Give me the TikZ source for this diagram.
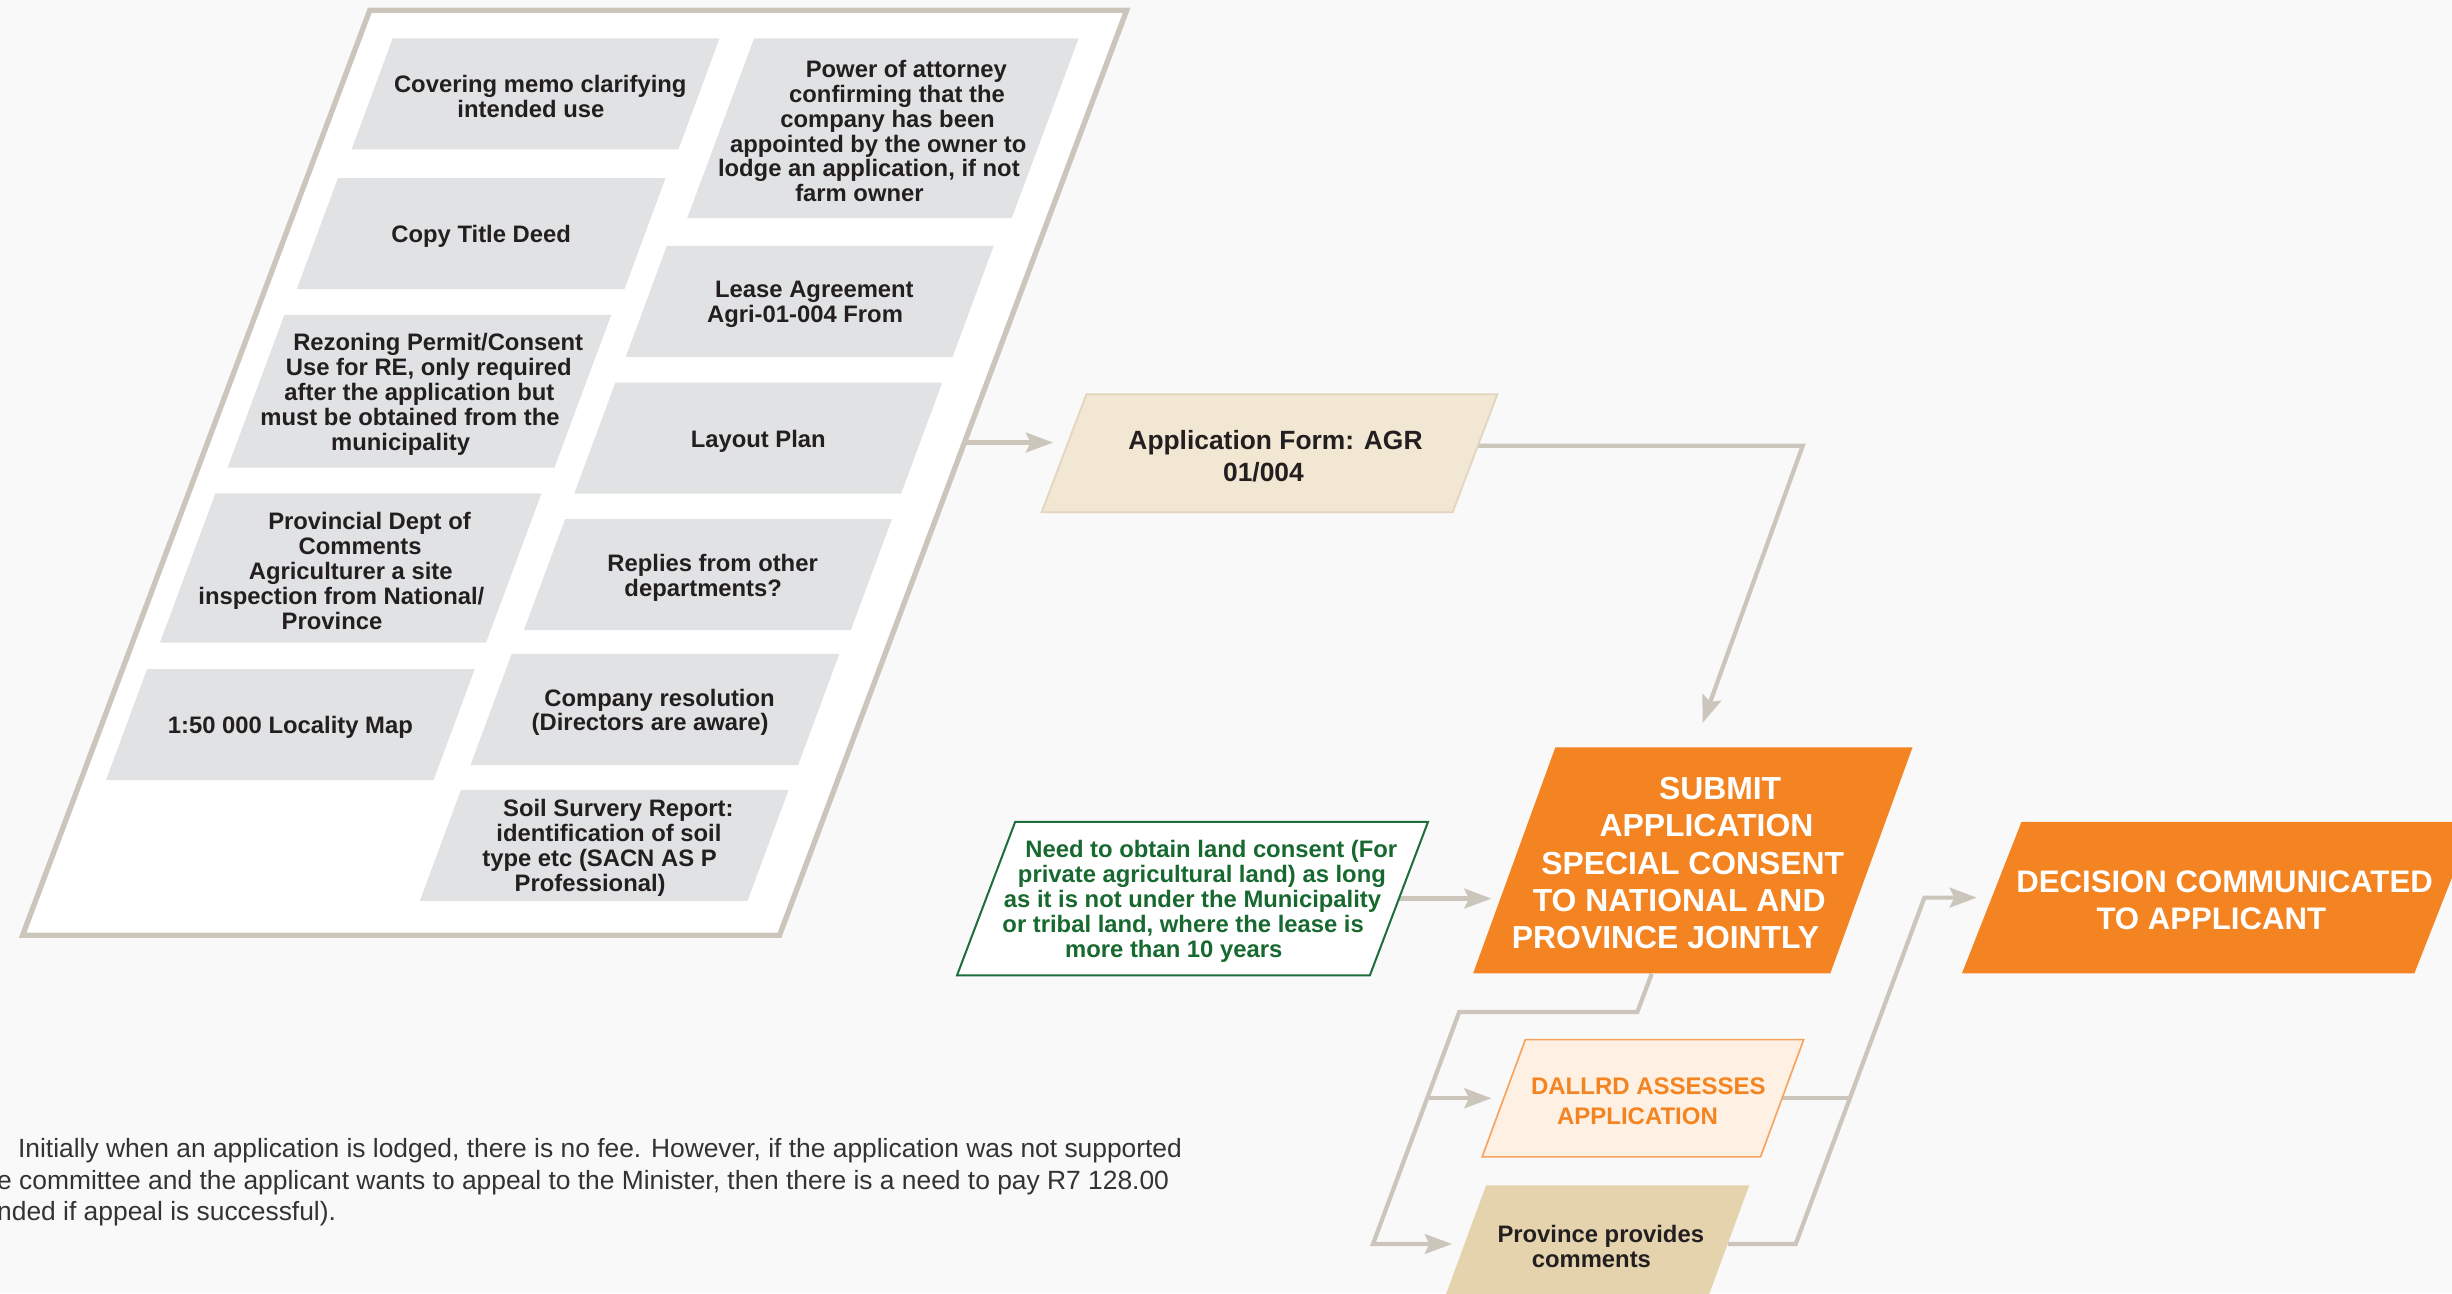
\documentclass[tikz,border=0pt]{standalone}
\usepackage{fontspec}
\setmainfont{Liberation Sans}
\usetikzlibrary{arrows.meta,calc,backgrounds}

\definecolor{bgcol}{HTML}{F9F9F9}
\definecolor{edgecol}{HTML}{CBC5BB}
\definecolor{boxgray}{HTML}{E1E2E3}
\definecolor{txtdark}{HTML}{231F20}
\definecolor{appfill}{HTML}{F2E7D2}
\definecolor{appedge}{HTML}{E2D6BF}
\definecolor{myorange}{HTML}{F48422}
\definecolor{greenline}{HTML}{1E6E3C}
\definecolor{greentext}{HTML}{17692F}
\definecolor{dalfill}{HTML}{FEF0E2}
\definecolor{daledge}{HTML}{F6A35E}
\definecolor{provfill}{HTML}{E5D3AE}
\definecolor{notetext}{HTML}{333333}

\newlength\shstep
\newcommand\sh[1]{\hspace*{#1\shstep}}

% #1 name, #2 cx, #3 cy, #4 w, #5 h, #6 slant, #7 path style, #8 text style, #9 text
\newcommand\pgbox[9]{%
  \path[#7] ({#2-#4/2-#6/2},{#3+#5/2}) -- ({#2+#4/2-#6/2},{#3+#5/2})
     -- ({#2+#4/2+#6/2},{#3-#5/2}) -- ({#2-#4/2+#6/2},{#3-#5/2}) -- cycle;
  \node[inner sep=0pt, minimum width={#4*0.03cm}, minimum height={#5*0.03cm}] (#1) at (#2,#3) {};
  \node[#8] (#1-t) at (#2,{#3+1.8}) {#9};
}

\tikzset{
  docbox/.style={fill=white, draw=edgecol, line width=2.9pt},
  gbox/.style={fill=boxgray},
  gtxt/.style={font=\fontsize{13}{13.6}\selectfont\bfseries, text=txtdark, align=center,
    inner sep=0pt, execute at begin node={\setlength{\shstep}{0.18cm}}},
  apptxt/.style={font=\fontsize{14.4}{17.8}\selectfont\bfseries, text=txtdark, align=center,
    inner sep=0pt, execute at begin node={\setlength{\shstep}{0.231cm}}},
  bigtxt/.style={font=\fontsize{17.4}{20.4}\selectfont\bfseries, text=white, align=center,
    inner sep=0pt, execute at begin node={\setlength{\shstep}{0.262cm}}},
  dectxt/.style={font=\fontsize{17}{20.4}\selectfont\bfseries, text=white, align=center,
    inner sep=0pt, execute at begin node={\setlength{\shstep}{0.255cm}}},
  greentxt/.style={font=\fontsize{13}{13.6}\selectfont\bfseries, text=greentext, align=center,
    inner sep=0pt, execute at begin node={\setlength{\shstep}{0.18cm}}},
  daltxt/.style={font=\fontsize{13.1}{16.2}\selectfont\bfseries, text=myorange, align=center,
    inner sep=0pt, execute at begin node={\setlength{\shstep}{0.21cm}}},
  conn/.style={draw=edgecol, line width=2.3pt},
  arr/.style={-{Stealth[length=0.52cm, width=0.38cm, inset=0.09cm]}},
}

\begin{document}
\begin{tikzpicture}[x=0.03cm, y=-0.03cm]
\useasboundingbox (0,0) rectangle (1568,827);
\begin{scope}[on background layer]
  \fill[bgcol] (0,0) rectangle (1568,827);
\end{scope}

% outer documents panel
\pgbox{docs}{367.5}{302.25}{484}{591.5}{222}{docbox}{inner sep=0pt}{}

% gray items
\pgbox{cover}{342.5}{60}{209}{71}{26.3}{gbox}{gtxt}{\sh{1}Covering memo clarifying\\\sh{-1}intended use}
\pgbox{power}{564.6}{82}{207.5}{115}{42.8}{gbox}{gtxt}{\sh{5}Power of attorney\\\sh{3}confirming that the\\\sh{1}company has been\\\sh{-1}appointed by the owner to\\\sh{-3}lodge an application, if not\\\sh{-5}farm owner}
\pgbox{title}{307.7}{149.4}{209.5}{71}{26.3}{gbox}{gtxt}{Copy Title Deed}
\pgbox{lease}{517.8}{192.7}{209}{71}{26.3}{gbox}{gtxt}{\sh{1}Lease Agreement\\\sh{-1}Agri-01-004 From}
\pgbox{rezon}{268.2}{250.2}{209}{97.6}{36.3}{gbox}{gtxt}{\sh{4}Rezoning Permit/Consent\\\sh{2}Use for RE, only required\\after the application but\\\sh{-2}must be obtained from the\\\sh{-4}municipality}
\pgbox{layout}{484.9}{280.1}{209}{71}{26.3}{gbox}{gtxt}{Layout Plan}
\pgbox{provdept}{224.3}{363.2}{208.5}{95.5}{35.5}{gbox}{gtxt}{\sh{4}Provincial Dept of\\\sh{2}Comments\\Agriculturer a site\\\sh{-2}inspection from National/\\\sh{-4}Province}
\pgbox{replies}{452.7}{367.5}{209}{71}{26.3}{gbox}{gtxt}{\sh{1}Replies from other\\\sh{-1}departments?}
\pgbox{locality}{185.7}{463.3}{209.5}{71}{26.3}{gbox}{gtxt}{1:50 000 Locality Map}
\pgbox{company}{418.8}{453.7}{209.5}{71}{26.3}{gbox}{gtxt}{\sh{1}Company resolution\\\sh{-1}(Directors are aware)}
\pgbox{soil}{386.4}{540.6}{209.5}{71}{26.3}{gbox}{gtxt}{\sh{3}Soil Survery Report:\\\sh{1}identification of soil\\\sh{-1}type etc (SACN AS P\\\sh{-3}Professional)}

% process boxes
\pgbox{app}{811.8}{289.9}{262.8}{75.4}{28.6}{fill=appfill, draw=appedge, line width=1pt}{apptxt}{\sh{1}Application Form: AGR\\\sh{-1}01/004}
\pgbox{submit}{1082.5}{550.2}{228.4}{144.6}{52.6}{fill=myorange}{bigtxt}{\sh{4}SUBMIT\\\sh{2}APPLICATION\\SPECIAL CONSENT\\\sh{-2}TO NATIONAL AND\\\sh{-4}PROVINCE JOINTLY}
\pgbox{dec}{1418.3}{574}{289.3}{97}{38.1}{fill=myorange}{dectxt}{\sh{1}DECISION COMMUNICATED\\\sh{-1}TO APPLICANT}
\pgbox{green}{762.6}{574.6}{264}{98.2}{37.2}{fill=white, draw=greenline, line width=1.1pt}{greentxt}{\sh{4}Need to obtain land consent (For\\\sh{2}private agricultural land) as long\\as it is not under the Municipality\\\sh{-2}or tribal land, where the lease is\\\sh{-4}more than 10 years}
\pgbox{dal}{1050.6}{702.3}{178}{75}{27.6}{fill=dalfill, draw=daledge, line width=0.9pt}{daltxt}{\sh{1}DALLRD ASSESSES\\\sh{-1}APPLICATION}
\pgbox{prov}{1020.65}{795.5}{168.3}{75}{27.6}{fill=provfill}{gtxt}{\sh{1}Province provides\\\sh{-1}comments}

% note text
\node[anchor=west, inner sep=0pt, align=left, text=notetext,
      font=\fontsize{14.4}{17}\selectfont] (note) at (-2,756)
  {\hspace*{0.4cm}Initially when an application is lodged, there is no fee. However, if the application was not supported\\
   e committee and the applicant wants to appeal to the Minister, then there is a need to pay R7 128.00\\
   nded if appeal is successful).};

% connectors
\coordinate (ya) at (0,283);
\coordinate (yb) at (0,285);
\coordinate (b1) at (1152.8,285);
\coordinate (b2) at ($(submit.north)+(6.3,-15.4)$);
\coordinate (sb) at ($(submit.south)+(-26.3,0)$);
\coordinate (c1) at (1047,647.2);
\coordinate (c2) at (933.1,647.2);
\coordinate (c3) at (878,795.5);
\coordinate (c4) at (912.6,702.3);
\coordinate (d0) at (1148.3,795.5);
\coordinate (d1) at (1230.6,574);
\coordinate (jn) at (1182.9,702.3);

\begin{scope}[on background layer]
  \draw[conn, arr, shorten >=0.204cm] (docs.east |- ya) -- (app.west |- ya);
  \draw[conn, arr] (app.east |- yb) -- (b1) -- (b2);
  \draw[conn, arr, shorten >=0.43cm] (green.east) -- (submit.west |- green.east);
  \draw[conn, arr, shorten >=0.234cm] (sb) -- (c1) -- (c2) -- (c3) -- (prov.west |- c3);
  \draw[conn, arr, shorten >=0.228cm] (c4) -- (dal.west |- c4);
  \draw[conn, arr, shorten >=0.28cm] (prov.east) -- (d0) -- (d1) -- (dec.west);
  \draw[conn] (dal.east) -- (jn);
\end{scope}
\end{tikzpicture}
\end{document}
